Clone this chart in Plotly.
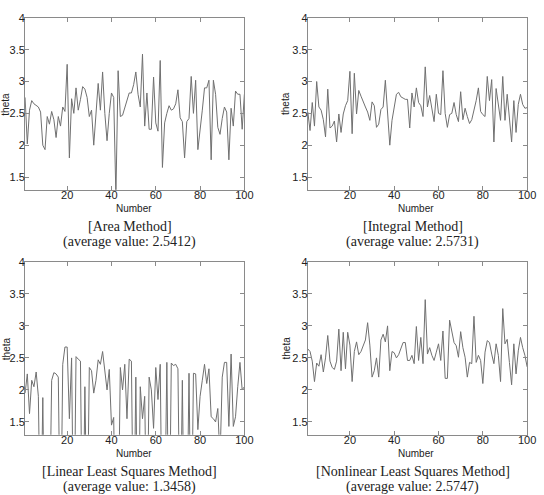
import plotly.graph_objects as go

numbers = list(range(1, 101))

area_method = [2.75, 2.02, 2.55, 2.7, 2.65, 2.62, 2.6, 2.52, 2.0, 1.93,
               2.45, 2.33, 2.53, 2.4, 2.12, 2.45, 2.3, 2.6, 2.53, 3.27,
               1.8, 2.73, 2.5, 2.9, 2.55, 2.72, 2.92, 2.88, 2.75, 2.45,
               2.55, 2.0, 2.5, 2.97, 2.55, 3.15, 2.5, 2.07, 2.5, 2.82,
               2.75, 1.2, 3.17, 2.45, 2.47, 2.6, 2.72, 2.82, 2.82, 2.95,
               3.15, 2.8, 2.6, 3.43, 2.3, 2.82, 2.25, 2.25, 3.07, 2.35,
               2.22, 3.33, 1.65, 2.35, 2.5, 2.62, 2.55, 2.57, 2.65, 2.87,
               2.43, 2.37, 1.8, 2.37, 2.42, 3.08, 2.5, 3.02, 1.93, 2.2,
               2.55, 2.9, 2.9, 3.02, 1.77, 3.02, 2.8, 2.28, 2.17, 2.42,
               2.6, 2.52, 1.77, 2.58, 2.3, 2.85, 2.8, 2.8, 2.25, 2.8]

integral_method = [2.52, 2.23, 2.67, 2.3, 3.0, 2.6, 2.55, 2.4, 2.13, 2.88,
                   2.27, 2.3, 2.38, 2.05, 2.49, 2.2, 2.49, 2.62, 2.7, 3.16,
                   2.18, 3.13, 2.49, 2.86, 2.77, 2.67, 2.6, 2.52, 2.39, 2.68,
                   2.62, 2.28, 2.33, 2.56, 2.6, 3.02, 2.49, 2.0, 2.39, 2.62,
                   2.8, 2.83, 2.76, 2.74, 2.72, 2.72, 2.27, 2.82, 2.6, 2.9,
                   2.67, 2.62, 2.45, 3.23, 2.6, 2.78, 2.58, 2.37, 2.8, 2.5,
                   2.48, 3.17, 2.5, 2.28, 2.48, 2.5, 2.67, 2.48, 2.37, 2.84,
                   2.4, 2.58, 2.45, 2.34, 2.4, 2.53, 2.7, 2.9, 2.53, 2.48,
                   2.45, 3.08, 2.7, 3.03, 2.05, 2.89, 2.64, 2.39, 3.08, 2.39,
                   2.8, 2.39, 2.05, 2.7, 2.2, 2.64, 2.8, 2.64, 2.58, 2.59]

linear_ls_method = [1.95, 2.25, 1.63, 2.15, 2.05, 2.28, 1.9, -0.5, 1.88, -0.8,
                    0.2, -0.3, 2.15, 2.27, 2.25, 2.2, -0.6, 2.4, 2.67, 2.67,
                    1.55, 2.5, -0.7, 2.52, 2.48, 2.45, -0.9, 2.05, -0.4, 2.35,
                    2.3, 1.95, 2.15, 2.47, 2.4, 2.6, 2.3, 2.0, 2.32, 1.45,
                    1.57, -0.8, -0.3, 2.35, 2.0, 2.4, 1.55, 2.48, 2.45, -0.6,
                    2.2, -0.9, 2.05, 1.55, 1.9, -0.5, 2.2, 2.0, 1.4, 2.35,
                    1.85, 2.4, -0.7, -0.2, 2.43, -0.8, 2.42, 2.38, 2.4, 2.33,
                    -0.6, 2.15, -0.9, -0.4, 2.26, -0.7, 2.26, 2.25, 1.38, 1.9,
                    2.15, 2.4, 2.1, 2.33, 1.58, 1.55, 1.5, 1.71, 0.9, 2.2,
                    2.43, 2.43, 1.43, 2.56, 1.43, 1.58, 2.05, 2.43, 2.0, 2.05]

nonlinear_ls_method = [2.64, 2.6, 2.45, 2.13, 2.42, 2.37, 2.55, 2.28, 2.5, 2.85,
                       2.45, 2.35, 2.32, 2.45, 2.95, 2.3, 2.9, 2.33, 2.9, 2.7,
                       2.13, 2.6, 2.75, 2.55, 2.6, 2.7, 2.78, 3.05, 2.7, 2.2,
                       2.3, 2.5, 2.2, 2.78, 2.87, 2.75, 3.0, 2.3, 2.6, 2.58,
                       2.5, 2.55, 2.65, 2.74, 2.74, 2.46, 2.46, 2.54, 2.41, 2.99,
                       2.46, 2.82, 2.41, 3.41, 2.56, 2.66, 2.54, 2.46, 2.59, 2.72,
                       2.46, 2.92, 2.18, 2.18, 3.09, 2.92, 2.74, 2.69, 2.51, 2.91,
                       2.66, 2.51, 2.2, 2.43, 2.41, 3.15, 2.43, 2.54, 2.46, 2.1,
                       2.59, 2.77, 2.74, 2.56, 2.41, 2.72, 2.54, 2.13, 3.27, 2.72,
                       2.79, 2.43, 2.08, 2.72, 2.25, 2.61, 2.82, 2.66, 2.54, 2.36]

series = [area_method, integral_method, linear_ls_method, nonlinear_ls_method]
captions = [("[Area Method]", "(average value: 2.5412)"),
            ("[Integral Method]", "(average value: 2.5731)"),
            ("[Linear Least Squares Method]", "(average value: 1.3458)"),
            ("[Nonlinear Least Squares Method]", "(average value: 2.5747)")]

x_ticks = [20, 40, 60, 80, 100]
y_ticks = [1.5, 2, 2.5, 3, 3.5, 4]
y_tick_text = ["1.5", "2", "2.5", "3", "3.5", "4"]

W, H = 544, 495
# panel pixel boxes: (left, right, top, bottom)
boxes = [(25.5, 248.5, 12, 186), (313, 536, 12, 186),
         (25.5, 248.5, 259, 434), (313, 536, 259, 434)]

fig = go.Figure()
ann = []
layout = {}
for i, (vals, box, cap) in enumerate(zip(series, boxes, captions)):
    k = "" if i == 0 else str(i + 1)
    l, r, t, b = box
    fig.add_trace(go.Scatter(x=numbers, y=vals, mode="lines",
                             line=dict(color="#707070", width=1),
                             xaxis="x" + k, yaxis="y" + k, showlegend=False))
    axstyle = dict(showline=True, linecolor="#8a8a8a", linewidth=1, mirror="ticks",
                   ticks="inside", ticklen=4, tickcolor="#8a8a8a", showgrid=False,
                   zeroline=False,
                   tickfont=dict(family="Liberation Sans, Arial", size=11, color="#222"))
    layout["xaxis" + k] = dict(axstyle, domain=[l / W, r / W], range=[1, 100],
                               tickvals=x_ticks, anchor="y" + k, ticklabelstandoff=-5)
    layout["yaxis" + k] = dict(axstyle, domain=[1 - b / H, 1 - t / H], range=[1.3, 4],
                               tickvals=y_ticks, ticktext=y_tick_text,
                               anchor="x" + k, ticklabelstandoff=-3)
    cx = (l + r) / 2
    ann.append(dict(x=(cx - 1) / W, y=1 - (b + 19) / H, xref="paper", yref="paper",
                    text="Number", showarrow=False, xanchor="center", yanchor="middle",
                    font=dict(family="Liberation Sans, Arial", size=10, color="#222")))
    ann.append(dict(x=max(l - 22, 6) / W, y=1 - (t + b) / 2 / H, xref="paper", yref="paper",
                    text="theta", showarrow=False, textangle=-90,
                    xanchor="center", yanchor="middle",
                    font=dict(family="Liberation Sans, Arial", size=10, color="#222")))
    ann.append(dict(x=(cx - 5) / W, y=1 - (b + 37) / H, xref="paper", yref="paper",
                    text=cap[0], showarrow=False, xanchor="center", yanchor="middle",
                    font=dict(family="Liberation Serif, DejaVu Serif", size=14, color="#222")))
    ann.append(dict(x=(cx - 5) / W, y=1 - (b + 53) / H, xref="paper", yref="paper",
                    text=cap[1], showarrow=False, xanchor="center", yanchor="middle",
                    font=dict(family="Liberation Serif, DejaVu Serif", size=14, color="#222")))

fig.update_layout(width=W, height=H, margin=dict(l=0, r=0, t=0, b=0),
                  paper_bgcolor="white", plot_bgcolor="white",
                  annotations=ann, **layout)
fig.write_html("out.html")
